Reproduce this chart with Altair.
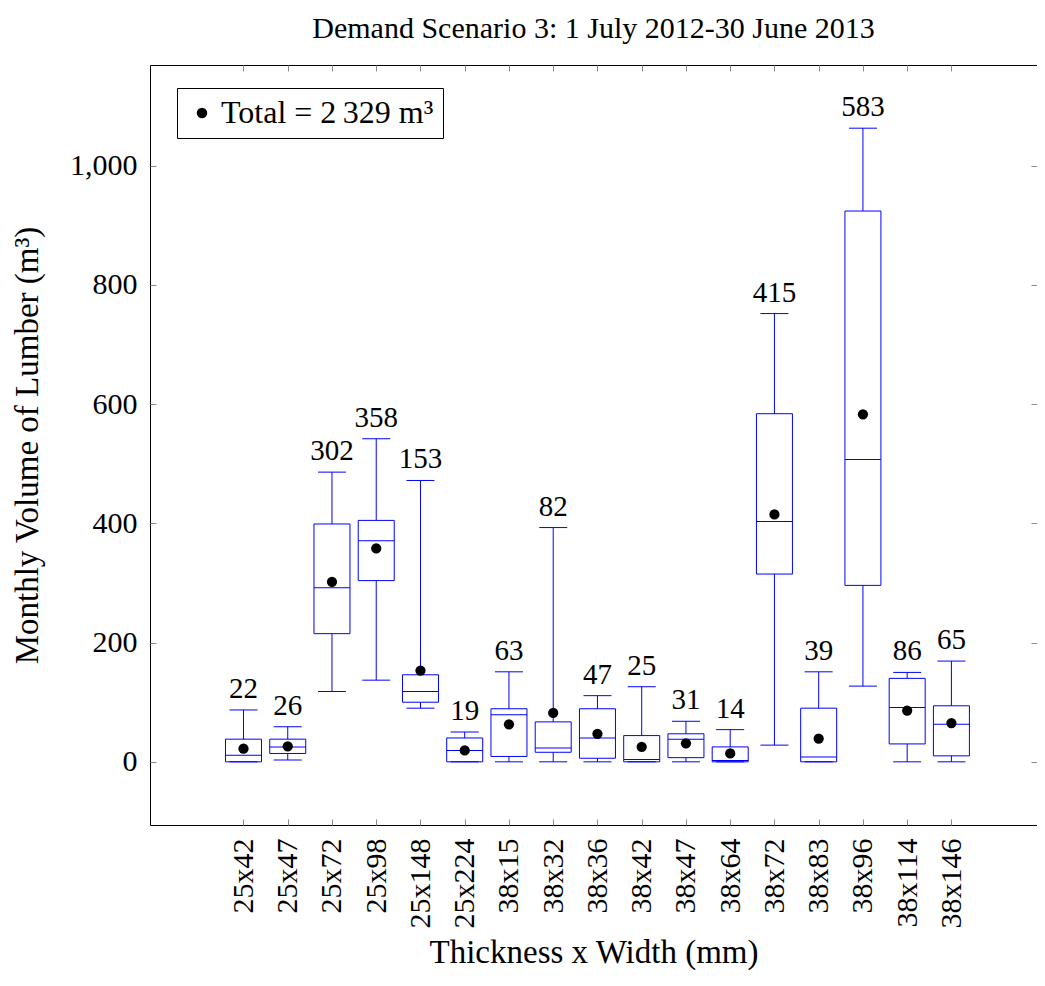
import altair as alt
import pandas as pd

cats = ["25x42", "25x47", "25x72", "25x98", "25x148", "25x224", "38x15", "38x32",
        "38x36", "38x42", "38x47", "38x64", "38x72", "38x83", "38x96", "38x114", "38x146"]
means = [22, 26, 302, 358, 153, 19, 63, 82, 47, 25, 31, 14, 415, 39, 583, 86, 65]
whisker_lo = [0, 3, 118, 137, 90, 0, 0, 0, 0, 0, 0, 0, 28, 0, 127, 0, 0]
q1 = [0, 14, 215, 304, 100, 0, 9, 16, 6, 0, 7, 0, 315, 0, 296, 30, 10]
median = [11, 25, 292, 371, 118, 19, 79, 23, 40, 4, 38, 2, 403, 8, 507, 91, 63]
q3 = [38, 38, 399, 405, 146, 40, 89, 67, 89, 44, 47, 25, 584, 90, 924, 140, 94]
whisker_hi = [87, 59, 486, 542, 472, 50, 151, 393, 111, 126, 68, 54, 752, 151, 1063, 150, 169]
legend_label = "Total = 2\u2009329 m\u00b3"
y_ticks = [0, 200, 400, 600, 800, 1000]
positions = list(range(1, len(cats) + 1))

df = pd.DataFrame({
    "pos": positions, "cat": cats, "mean": means, "lo": whisker_lo, "q1": q1,
    "med": median, "q3": q3, "hi": whisker_hi,
})
df["legend"] = legend_label

FONT = "Liberation Serif"
BLUE = "#0000ff"
TICK = "#8a8a8a"

PLOT_W = 887
PLOT_H = 760
STEP = 44.75  # pixel spacing between categories in the reference

label_expr = "[" + ",".join("'%s'" % c for c in cats) + "][datum.value - 1]"

xscale = alt.Scale(domain=[-1, -1 + PLOT_W / STEP], nice=False, zero=False)
yscale = alt.Scale(domain=[-106, 1169], nice=False, zero=False)

x_bottom = alt.Axis(orient="bottom", offset=-6, domain=False, tickSize=6, tickColor=TICK,
                    values=positions, labelExpr=label_expr, labelFontSize=30,
                    labelAngle=270, labelPadding=13, title="Thickness x Width (mm)",
                    titlePadding=8, grid=False)
x_top = alt.Axis(orient="top", offset=-6, domain=False, tickSize=6, tickColor=TICK,
                 values=positions, labels=False, title=None, grid=False)
y_left = alt.Axis(orient="left", offset=-6, domain=False, tickSize=6, tickColor=TICK,
                  values=y_ticks, format=",d", labelPadding=13, labelFontSize=30,
                  title="Monthly Volume of Lumber (m\u00b3)", titlePadding=25, grid=False)
y_right = alt.Axis(orient="right", offset=-6, domain=False, tickSize=6, tickColor=TICK,
                   values=y_ticks, labels=False, title=None, grid=False)

base = alt.Chart(df)


def X(ax):
    return alt.X("pos:Q", scale=xscale, axis=ax)


whiskers = base.mark_rule(color=BLUE, strokeWidth=1).encode(
    x=X(x_bottom),
    y=alt.Y("lo:Q", scale=yscale, axis=y_left),
    y2="hi:Q",
)
boxes = base.mark_bar(size=36, fill="white", stroke=BLUE, strokeWidth=1).encode(
    x=X(None), y=alt.Y("q1:Q", scale=yscale, axis=None), y2="q3:Q"
)
medians = base.mark_tick(size=36, thickness=1, color=BLUE, opacity=1,
                         orient="horizontal").encode(
    x=X(None), y=alt.Y("med:Q", scale=yscale, axis=None)
)
caps_lo = base.mark_tick(size=28, thickness=1, color=BLUE, opacity=1,
                         orient="horizontal").encode(
    x=X(x_top), y=alt.Y("lo:Q", scale=yscale, axis=y_right)
)
caps_hi = base.mark_tick(size=28, thickness=1, color=BLUE, opacity=1,
                         orient="horizontal").encode(
    x=X(None), y=alt.Y("hi:Q", scale=yscale, axis=None)
)
mean_pts = base.mark_circle(size=105, opacity=1).encode(
    x=X(None), y=alt.Y("mean:Q", scale=yscale, axis=None),
    color=alt.Color("legend:N", scale=alt.Scale(range=["black"]),
                    legend=alt.Legend(orient="none", legendX=27, legendY=23, title=None,
                                      strokeColor="black", fillColor="white", padding=9,
                                      labelFontSize=32, labelFont=FONT, labelColor="black",
                                      labelLimit=0, symbolSize=110, symbolType="circle",
                                      labelOffset=3, symbolStrokeWidth=0, cornerRadius=0)),
)
labels = base.mark_text(fontSize=29, font=FONT, baseline="alphabetic", dy=-12,
                        color="black").encode(
    x=X(None), y=alt.Y("hi:Q", scale=yscale, axis=None), text=alt.Text("mean:Q", format="d")
)

chart = alt.layer(whiskers, boxes, medians, caps_lo, caps_hi, mean_pts, labels).resolve_axis(
    x="independent", y="independent"
).properties(
    width=PLOT_W, height=PLOT_H,
    title=alt.Title("Demand Scenario 3: 1 July 2012-30 June 2013", fontSize=30, font=FONT,
                    fontWeight="normal", color="black", offset=21, anchor="middle"),
    autosize=alt.AutoSizeParams(type="none"),
    padding={"left": 142, "top": 57, "right": 0, "bottom": 145},
).configure_view(stroke="black", strokeWidth=1).configure_axis(
    labelFont=FONT, labelColor="black",
    titleFont=FONT, titleFontSize=33, titleFontWeight="normal", titleColor="black",
    tickWidth=1,
)

chart.save("out.html", embed_options={"renderer": "svg", "actions": False})
